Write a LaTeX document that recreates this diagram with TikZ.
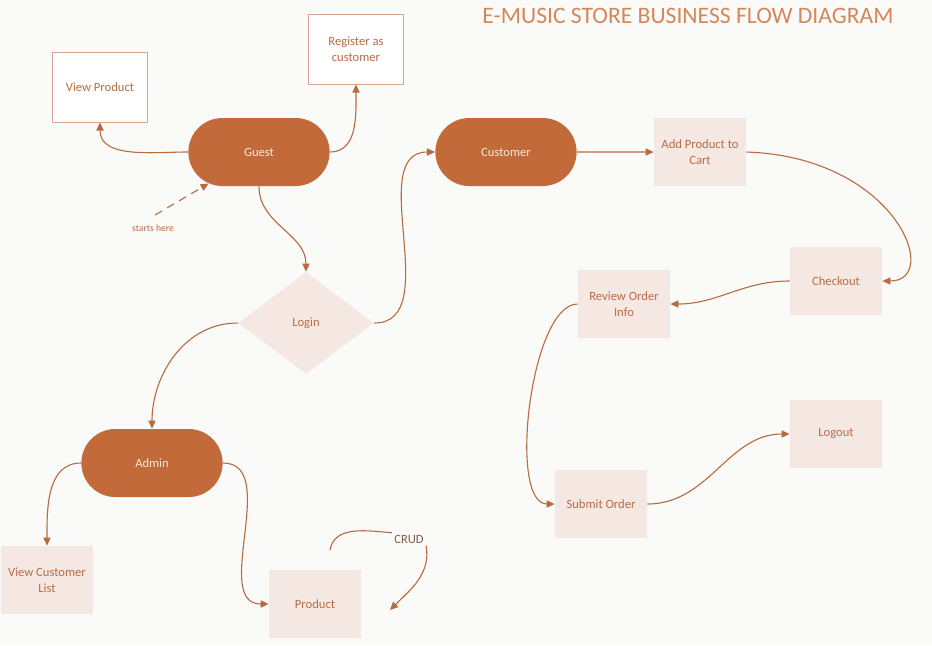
\documentclass[tikz,border=0pt]{standalone}
\usepackage{fontspec}
\setmainfont{Carlito}
\usetikzlibrary{arrows.meta,shapes.misc,shapes.geometric}
\definecolor{rust}{HTML}{C36A3A}
\definecolor{rustline}{HTML}{B86A40}
\definecolor{rusttext}{HTML}{B96C43}
\definecolor{crudtext}{HTML}{7E5C4A}
\definecolor{titletext}{HTML}{D4885A}
\definecolor{blush}{HTML}{F5E8E3}
\definecolor{cream}{HTML}{F7E9DE}
\definecolor{paper}{HTML}{FAFAF8}
\tikzset{
  role/.style={rounded rectangle, fill=rust, text=cream, minimum width=77.3pt, minimum height=34pt},
  task/.style={rectangle, fill=blush, text=rusttext, minimum width=46pt, minimum height=34pt, align=center, inner sep=1pt},
  page/.style={rectangle, draw=rustline!60, fill=white, text=rusttext, line width=0.5pt, minimum width=47.5pt, minimum height=35pt, align=center, inner sep=1pt},
  choice/.style={diamond, fill=blush, text=rusttext, minimum width=68pt, minimum height=51pt, inner sep=0pt},
  link/.style={draw=rustline, line width=0.55pt},
  flow/.style={link, -{Triangle[length=4pt,width=3.6pt]}},
}
\begin{document}
\begin{tikzpicture}[x=0.5pt, y=-0.5pt, every node/.style={font=\fontsize{6.3}{7.8}\selectfont}]
  \useasboundingbox (0,0) rectangle (932,645);
  \fill[paper] (0,0) rectangle (932,645);
  \node[text=titletext, font=\fontsize{11.8}{14}\selectfont] (title) at (688,16) {E-MUSIC STORE BUSINESS FLOW DIAGRAM};
  \node[page] (viewprod) at (100,87) {View Product};
  \node[page] (register) at (356,49) {Register as\\customer};
  \node[role] (guest) at (259,152) {Guest};
  \node[choice] (login) at (306,323) {Login};
  \node[role] (customer) at (506,152) {Customer};
  \node[task] (addcart) at (700,152) {Add Product to\\Cart};
  \node[task] (checkout) at (836,281) {Checkout};
  \node[task] (review) at (624,304) {Review Order\\Info};
  \node[task] (submit) at (601,504) {Submit Order};
  \node[task] (logout) at (836,434) {Logout};
  \node[role] (admin) at (152,463) {Admin};
  \node[task] (custlist) at (47,580) {View Customer\\List};
  \node[task] (product) at (315,604) {Product};
  \node[text=rusttext, font=\fontsize{4.8}{6}\selectfont] (starts) at (153,228) {starts here};
  \node[text=crudtext, inner sep=1pt] (crud) at (409,539) {CRUD};
  \coordinate (startpt) at (155,215);
  \coordinate (crudin) at (330,550);
  \coordinate (crudout) at (390,610);
  \begin{scope}[flow]
    \draw[dash pattern=on 4pt off 3pt] (startpt) -- (guest.212);
    \draw (guest.west) to[out=180, in=-90] (viewprod.south);
    \draw (guest.east) to[out=0, in=-90] (register.south);
    \draw (guest.south) to[out=-90, in=90] (login.north);
    \draw (login.east) to[out=0, in=180] (customer.west);
    \draw (login.west) to[out=180, in=90] (admin.north);
    \draw (customer) -- (addcart);
    \draw (addcart.east) .. controls +(150,5) and +(60,0) .. (checkout.east);
    \draw (checkout.west) to[out=180, in=0] (review.east);
    \draw (review.west) to[out=180, in=180, looseness=0.6] (submit.west);
    \draw (submit.east) to[out=0, in=180] (logout.west);
    \draw (admin.west) to[out=180, in=90] (custlist.north);
    \draw (admin.east) to[out=0, in=180] (product.west);
    \draw (crud.south east) to[out=-80, in=45] (crudout);
  \end{scope}
  \draw[link] (crudin) to[out=80, in=175] (crud.160);
\end{tikzpicture}
\end{document}
